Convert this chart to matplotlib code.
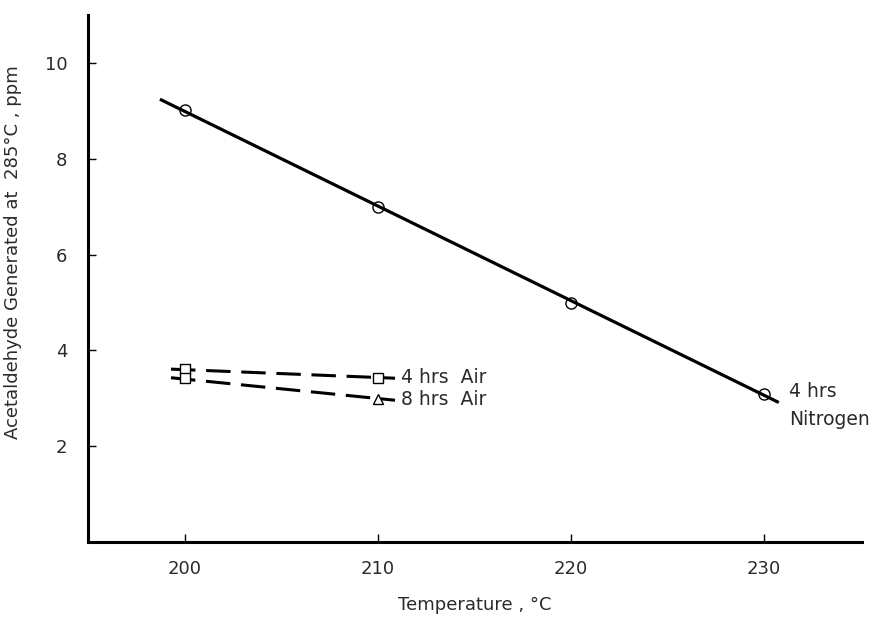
import matplotlib.pyplot as plt
import numpy as np

# data
temp_n2 = [200, 210, 220, 230]
ald_n2 = [9.02, 7.0, 5.0, 3.1]
n2_line_x = [198.8, 230.7]   # extent of the drawn fit line

temp_air = [200, 210]
ald_air4 = [3.61, 3.43]
ald_air8 = [3.43, 2.99]
air8_markers = ['s', '^']

xticks = [200, 210, 220, 230]
yticks = [2, 4, 6, 8, 10]

txt_col = '#2a2a2a'
plt.rcParams['font.family'] = ['DejaVu Sans']

fig = plt.figure(figsize=(8.87, 6.19), dpi=100)
ax = fig.add_axes([0.0992, 0.1244, 0.873, 0.851])

# nitrogen: straight fitted line through circles
coef = np.polyfit(temp_n2, ald_n2, 1)
xx = np.array(n2_line_x)
ax.plot(xx, np.polyval(coef, xx), color='black', lw=2.3, zorder=2)
ax.plot(temp_n2, ald_n2, 'o', ms=8, mfc='none', mec='black', mew=1.0, zorder=3)

# air: dashed lines
dash = (0, (8, 3.5))
ax.plot([199.3, 210.9], [ald_air4[0], ald_air4[1] - 0.01], color='black', lw=2.2,
        ls=dash, zorder=2)
ax.plot([199.3, 210.9], [ald_air8[0], ald_air8[1] - 0.03], color='black', lw=2.2,
        ls=dash, zorder=2)
ax.plot(temp_air, ald_air4, 's', ms=7, mfc='white', mec='black', mew=1.0, zorder=3)
for x, y, m in zip(temp_air, ald_air8, air8_markers):
    ax.plot(x, y, m, ms=7, mfc='white', mec='black', mew=1.0, zorder=3)

fs = 13.5
ax.text(211.2, ald_air4[1], '4 hrs  Air', fontsize=fs, color=txt_col, va='center', ha='left')
ax.text(211.2, ald_air8[1] - 0.02, '8 hrs  Air', fontsize=fs, color=txt_col, va='center', ha='left')
ax.text(231.3, 3.14, '4 hrs', fontsize=fs, color=txt_col, va='center', ha='left')
ax.text(231.3, 2.55, 'Nitrogen', fontsize=fs, color=txt_col, va='center', ha='left')

ax.set_xlim(195, 235.1)
ax.set_ylim(0, 11)
ax.set_xticks(xticks)
ax.set_yticks(yticks)
ax.tick_params(direction='in', length=6, width=1, colors='black', labelcolor=txt_col,
               labelsize=13)
ax.tick_params(axis='x', pad=13)
ax.tick_params(axis='y', pad=15)

for s in ['top', 'right']:
    ax.spines[s].set_visible(False)
for s in ['left', 'bottom']:
    ax.spines[s].set_linewidth(2.2)

ax.set_xlabel('Temperature , °C', fontsize=13, color=txt_col)
ax.set_ylabel('Acetaldehyde Generated at  285°C , ppm', fontsize=13, color=txt_col)
ax.xaxis.set_label_coords(0.5, -0.103)
ax.yaxis.set_label_coords(-0.085, 0.55)

fig.savefig('out.png', dpi=100)
